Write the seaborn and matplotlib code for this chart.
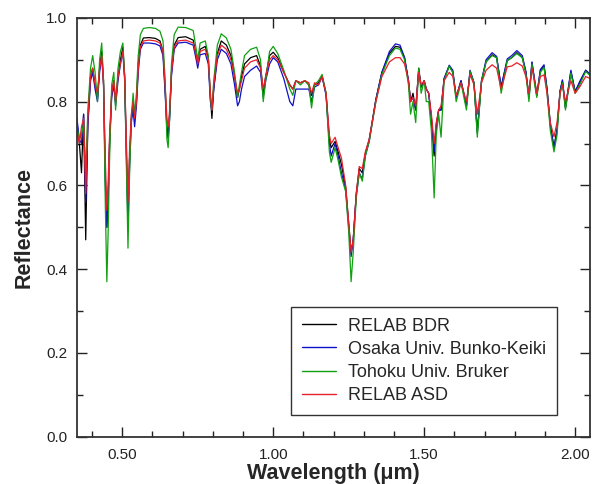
import numpy as np
import pandas as pd
import matplotlib
matplotlib.use('Agg')
import matplotlib.pyplot as plt
from matplotlib.ticker import MultipleLocator, FormatStrFormatter
from matplotlib.lines import Line2D
import seaborn as sns

# wavelength (um) and reflectance
wavelength = [
    0.350, 0.358, 0.365, 0.372, 0.379, 0.386, 0.395, 0.402, 0.410, 0.418,
    0.425, 0.432, 0.438, 0.444, 0.449, 0.453, 0.458, 0.465, 0.472, 0.478,
    0.486, 0.494, 0.502, 0.508, 0.514, 0.519, 0.524, 0.530, 0.536, 0.541,
    0.547, 0.553, 0.560, 0.570, 0.590, 0.610, 0.625, 0.635, 0.642, 0.648,
    0.652, 0.657, 0.663, 0.672, 0.685, 0.710, 0.735, 0.745, 0.750, 0.758,
    0.775, 0.785, 0.792, 0.797, 0.803, 0.815, 0.828, 0.845, 0.860, 0.872,
    0.882, 0.888, 0.895, 0.905, 0.925, 0.945, 0.958, 0.967, 0.975, 0.988,
    1.000, 1.015, 1.035, 1.055, 1.065, 1.075, 1.090, 1.105, 1.118, 1.127,
    1.137, 1.150, 1.162, 1.175, 1.186, 1.192, 1.205, 1.215, 1.226, 1.240,
    1.250, 1.258, 1.265, 1.275, 1.285, 1.295, 1.305, 1.318, 1.340, 1.360,
    1.385, 1.405, 1.420, 1.435, 1.448, 1.455, 1.463, 1.472, 1.482, 1.490,
    1.500, 1.507, 1.515, 1.524, 1.533, 1.540, 1.548, 1.556, 1.566, 1.583,
    1.595, 1.606, 1.622, 1.640, 1.652, 1.665, 1.676, 1.690, 1.705, 1.725,
    1.740, 1.755, 1.775, 1.790, 1.807, 1.825, 1.837, 1.847, 1.857, 1.866,
    1.873, 1.885, 1.897, 1.907, 1.918, 1.930, 1.940, 1.950, 1.958, 1.968,
    1.986, 2.000, 2.015, 2.035, 2.050,
]

relab_bdr = [
    0.75, 0.70, 0.63, 0.77, 0.47, 0.75, 0.86, 0.88, 0.84, 0.81,
    0.88, 0.92, 0.85, 0.62, 0.50, 0.56, 0.70, 0.82, 0.85, 0.80,
    0.86, 0.90, 0.93, 0.86, 0.68, 0.52, 0.66, 0.76, 0.79, 0.76,
    0.80, 0.89, 0.935, 0.952, 0.953, 0.951, 0.945, 0.92, 0.83, 0.74,
    0.72, 0.77, 0.87, 0.935, 0.953, 0.955, 0.947, 0.91, 0.89, 0.925,
    0.932, 0.905, 0.81, 0.76, 0.83, 0.915, 0.945, 0.935, 0.91, 0.86,
    0.81, 0.83, 0.86, 0.89, 0.905, 0.91, 0.885, 0.82, 0.86, 0.91,
    0.918, 0.905, 0.87, 0.84, 0.83, 0.85, 0.845, 0.85, 0.84, 0.815,
    0.84, 0.845, 0.86, 0.82, 0.71, 0.69, 0.705, 0.68, 0.65, 0.595,
    0.51, 0.44, 0.47, 0.58, 0.64, 0.63, 0.675, 0.71, 0.805, 0.87,
    0.915, 0.932, 0.93, 0.905, 0.85, 0.80, 0.82, 0.78, 0.88, 0.835,
    0.85, 0.83, 0.82, 0.76, 0.67, 0.74, 0.78, 0.78, 0.855, 0.885,
    0.87, 0.81, 0.85, 0.79, 0.872, 0.845, 0.725, 0.85, 0.895, 0.912,
    0.905, 0.835, 0.898, 0.905, 0.917, 0.905, 0.87, 0.81, 0.893, 0.85,
    0.815, 0.875, 0.885, 0.83, 0.745, 0.69, 0.735, 0.825, 0.85, 0.785,
    0.872, 0.825, 0.845, 0.875, 0.865,
]

osaka_bunko = [
    0.76, 0.71, 0.70, 0.77, 0.56, 0.74, 0.85, 0.87, 0.83, 0.80,
    0.87, 0.91, 0.84, 0.60, 0.50, 0.56, 0.70, 0.81, 0.84, 0.79,
    0.85, 0.89, 0.92, 0.85, 0.66, 0.50, 0.64, 0.75, 0.78, 0.74,
    0.79, 0.87, 0.925, 0.94, 0.94, 0.938, 0.933, 0.91, 0.82, 0.73,
    0.71, 0.76, 0.86, 0.925, 0.94, 0.942, 0.935, 0.90, 0.88, 0.912,
    0.915, 0.89, 0.80, 0.78, 0.83, 0.90, 0.925, 0.915, 0.89, 0.84,
    0.79, 0.80, 0.83, 0.86, 0.875, 0.885, 0.87, 0.81, 0.85, 0.89,
    0.905, 0.895, 0.855, 0.80, 0.79, 0.83, 0.83, 0.83, 0.83, 0.80,
    0.835, 0.84, 0.86, 0.815, 0.70, 0.67, 0.70, 0.67, 0.63, 0.59,
    0.50, 0.43, 0.47, 0.575, 0.63, 0.615, 0.67, 0.705, 0.805, 0.87,
    0.92, 0.938, 0.935, 0.905, 0.85, 0.80, 0.81, 0.78, 0.875, 0.835,
    0.85, 0.83, 0.82, 0.76, 0.68, 0.745, 0.78, 0.78, 0.855, 0.887,
    0.875, 0.81, 0.85, 0.79, 0.875, 0.845, 0.73, 0.85, 0.90, 0.917,
    0.908, 0.835, 0.902, 0.91, 0.922, 0.91, 0.872, 0.81, 0.895, 0.85,
    0.815, 0.877, 0.888, 0.83, 0.74, 0.69, 0.73, 0.825, 0.852, 0.785,
    0.875, 0.823, 0.848, 0.875, 0.865,
]

tohoku_bruker = [
    0.74, 0.71, 0.72, 0.75, 0.63, 0.78, 0.88, 0.91, 0.87, 0.80,
    0.90, 0.94, 0.85, 0.55, 0.37, 0.48, 0.66, 0.84, 0.87, 0.78,
    0.88, 0.92, 0.94, 0.86, 0.64, 0.45, 0.62, 0.76, 0.82, 0.77,
    0.82, 0.91, 0.96, 0.975, 0.977, 0.975, 0.968, 0.945, 0.85, 0.71,
    0.69, 0.76, 0.89, 0.96, 0.978, 0.977, 0.97, 0.925, 0.90, 0.94,
    0.945, 0.91, 0.81, 0.78, 0.85, 0.935, 0.962, 0.952, 0.925, 0.87,
    0.81, 0.84, 0.87, 0.91, 0.925, 0.93, 0.90, 0.80, 0.85, 0.92,
    0.932, 0.915, 0.875, 0.83, 0.815, 0.85, 0.84, 0.85, 0.84, 0.785,
    0.84, 0.85, 0.865, 0.82, 0.68, 0.655, 0.69, 0.66, 0.62, 0.585,
    0.49, 0.37, 0.44, 0.57, 0.63, 0.61, 0.67, 0.705, 0.80, 0.865,
    0.91, 0.928, 0.925, 0.90, 0.84, 0.77, 0.80, 0.75, 0.88, 0.82,
    0.85, 0.80, 0.80, 0.73, 0.57, 0.72, 0.77, 0.715, 0.85, 0.885,
    0.87, 0.80, 0.845, 0.78, 0.872, 0.845, 0.715, 0.85, 0.895, 0.91,
    0.905, 0.82, 0.898, 0.905, 0.915, 0.905, 0.865, 0.80, 0.89, 0.84,
    0.81, 0.87, 0.882, 0.82, 0.73, 0.68, 0.72, 0.82, 0.845, 0.78,
    0.868, 0.82, 0.84, 0.872, 0.862,
]

relab_asd = [
    0.73, 0.70, 0.74, 0.76, 0.58, 0.76, 0.86, 0.88, 0.84, 0.82,
    0.88, 0.91, 0.84, 0.66, 0.54, 0.60, 0.72, 0.82, 0.85, 0.80,
    0.86, 0.89, 0.92, 0.86, 0.70, 0.56, 0.68, 0.77, 0.80, 0.76,
    0.80, 0.88, 0.93, 0.945, 0.947, 0.945, 0.94, 0.92, 0.84, 0.76,
    0.74, 0.78, 0.87, 0.93, 0.945, 0.947, 0.94, 0.91, 0.89, 0.92,
    0.925, 0.90, 0.82, 0.78, 0.84, 0.91, 0.935, 0.925, 0.90, 0.86,
    0.82, 0.83, 0.85, 0.88, 0.895, 0.90, 0.88, 0.83, 0.86, 0.90,
    0.91, 0.90, 0.87, 0.84, 0.83, 0.85, 0.845, 0.85, 0.845, 0.82,
    0.845, 0.84, 0.86, 0.82, 0.72, 0.70, 0.715, 0.69, 0.665, 0.60,
    0.51, 0.44, 0.47, 0.58, 0.645, 0.64, 0.68, 0.71, 0.80, 0.86,
    0.895, 0.905, 0.905, 0.89, 0.85, 0.80, 0.81, 0.79, 0.87, 0.84,
    0.85, 0.83, 0.82, 0.77, 0.70, 0.75, 0.78, 0.79, 0.85, 0.87,
    0.86, 0.815, 0.845, 0.80, 0.865, 0.84, 0.77, 0.845, 0.875, 0.888,
    0.88, 0.83, 0.883, 0.885, 0.893, 0.885, 0.86, 0.82, 0.88, 0.85,
    0.82, 0.86, 0.864, 0.82, 0.75, 0.716, 0.75, 0.82, 0.84, 0.80,
    0.85, 0.82, 0.835, 0.86, 0.855,
]

series_names = ['RELAB BDR', 'Osaka Univ. Bunko-Keiki', 'Tohoku Univ. Bruker', 'RELAB ASD']
series_colors = ['#000000', '#1010c8', '#10a010', '#e8202a']

df = pd.concat([
    pd.DataFrame({'Wavelength': wavelength, 'Reflectance': vals, 'Source': name})
    for name, vals in zip(series_names, [relab_bdr, osaka_bunko, tohoku_bruker, relab_asd])
])

sns.set_style('ticks')
plt.rcParams['font.family'] = ['Liberation Sans', 'DejaVu Sans']

fig = plt.figure(figsize=(5.92, 4.84), dpi=100)
ax = fig.add_axes([0.130, 0.098, 0.867, 0.865])

sns.lineplot(data=df, x='Wavelength', y='Reflectance', hue='Source',
             hue_order=series_names, palette=dict(zip(series_names, series_colors)),
             estimator=None, sort=False, linewidth=0.9, legend=False, ax=ax)

ax.set_xlim(0.35, 2.05)
ax.set_ylim(0.0, 1.0)
ax.xaxis.set_major_locator(MultipleLocator(0.5))
ax.xaxis.set_minor_locator(MultipleLocator(0.1))
ax.yaxis.set_major_locator(MultipleLocator(0.2))
ax.yaxis.set_minor_locator(MultipleLocator(0.1))
ax.xaxis.set_major_formatter(FormatStrFormatter('%.2f'))
ax.yaxis.set_major_formatter(FormatStrFormatter('%.1f'))
ax.tick_params(which='both', direction='in', top=True, right=True, labelsize=11, colors='#222222')
ax.tick_params(which='major', length=7, width=1)
ax.tick_params(which='minor', length=4, width=1)
ax.tick_params(axis='x', pad=8)
ax.tick_params(axis='y', pad=7)
for s in ax.spines.values():
    s.set_linewidth(1.3)
    s.set_color('#333333')

ax.set_xlabel('Wavelength (\u03bcm)', fontsize=15.5, fontweight='bold', labelpad=1)
ax.set_ylabel('Reflectance', fontsize=15.5, fontweight='bold', labelpad=8)

handles = [Line2D([], [], color=c, lw=1) for c in series_colors]
leg = ax.legend(handles, series_names, loc='lower right', bbox_to_anchor=(0.935, 0.052),
                fontsize=13, frameon=True, fancybox=False, edgecolor='black',
                handlelength=1.9, borderpad=0.6, labelspacing=0.34, handletextpad=0.65,
                borderaxespad=0)
leg.get_frame().set_linewidth(1.0)

fig.savefig('out.png', dpi=100)
